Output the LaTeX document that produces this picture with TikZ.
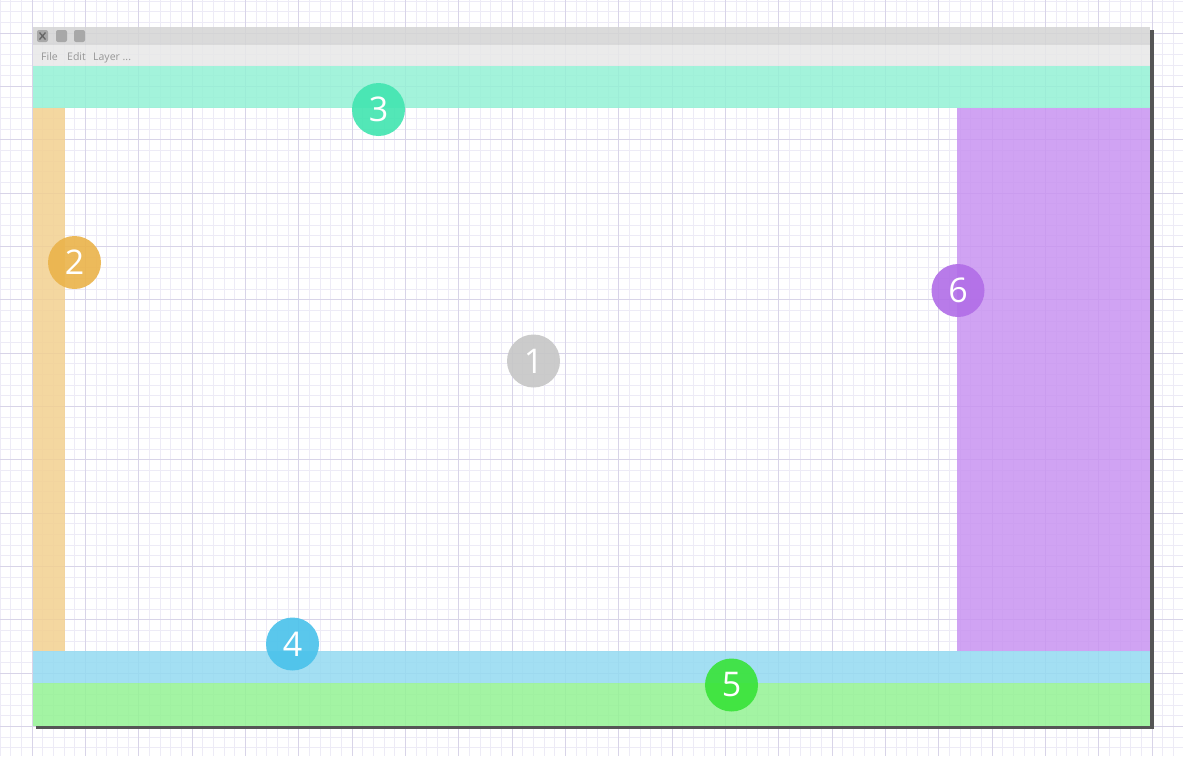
\documentclass[tikz,border=0pt]{standalone}
\usepackage{fontspec}
\setmainfont{Open Sans}
\definecolor{gridminor}{RGB}{237,235,246}
\definecolor{gridmajor}{RGB}{216,212,232}
\definecolor{titlec}{RGB}{212,212,212}
\definecolor{menuc}{RGB}{232,232,232}
\definecolor{tealc}{RGB}{147,241,213}
\definecolor{orangec}{RGB}{243,208,144}
\definecolor{purplec}{RGB}{200,147,241}
\definecolor{bluec}{RGB}{147,218,241}
\definecolor{greenc}{RGB}{147,243,147}
\definecolor{c1}{RGB}{198,198,198}
\definecolor{c2}{RGB}{235,179,74}
\definecolor{c3}{RGB}{65,229,176}
\definecolor{c4}{RGB}{73,194,235}
\definecolor{c5}{RGB}{56,227,56}
\definecolor{c6}{RGB}{177,109,231}
\definecolor{btn}{RGB}{168,168,168}
\definecolor{shadowc}{RGB}{85,85,85}
\definecolor{menutext}{RGB}{150,150,150}
\tikzset{
  band/.style={fill opacity=0.85, draw=none},
  badge/.style={circle, minimum size=53pt, inner sep=0pt, fill opacity=0.9, text opacity=1, text=white, font=\fontsize{34}{34}\selectfont},
  winbtn/.style={fill=btn, rounded corners=2pt, draw=none},
  menuitem/.style={anchor=base west, inner sep=0pt, text=menutext, font=\fontsize{10.5}{12}\selectfont}
}
\begin{document}
\begin{tikzpicture}[x=1pt,y=-1pt]
\useasboundingbox (0,0) rectangle (1183,756);
\fill[white] (0,0) rectangle (1183,756);
% grid
\foreach \i in {-3,...,108} \draw[gridminor, line width=0.6pt] ({32+\i*10.6667},0) -- ({32+\i*10.6667},756);
\foreach \j in {-3,...,68} \draw[gridminor, line width=0.6pt] (0,{33+\j*10.6667}) -- (1183,{33+\j*10.6667});
\foreach \i in {-1,...,22} \draw[gridmajor, line width=0.7pt] ({32+\i*53.3333},0) -- ({32+\i*53.3333},756);
\foreach \j in {-1,...,14} \draw[gridmajor, line width=0.7pt] (0,{33+\j*53.3333}) -- (1183,{33+\j*53.3333});
% shadow
\fill[shadowc] (1150,30) rectangle (1154,729);
\fill[shadowc] (36,726) rectangle (1154,729);
% window parts
\fill[titlec, band] (33,27) rectangle (1150,45);
\fill[menuc, band] (33,45) rectangle (1150,66);
\fill[tealc, band] (33,66) rectangle (1150,108);
\fill[orangec, band] (33,108) rectangle (65,651);
\fill[purplec, band] (957,108) rectangle (1150,651);
\fill[bluec, band] (33,651) rectangle (1150,683);
\fill[greenc, band] (33,683) rectangle (1150,726);
% title bar buttons
\fill[winbtn] (37,30) rectangle (48,42);
\fill[winbtn] (56,30) rectangle (67,42);
\fill[winbtn] (74,30) rectangle (85,42);
\draw[gray!80!black, line width=1.3pt] (39.5,32.5) -- (45.5,39.5) (45.5,32.5) -- (39.5,39.5);
% menu
\node[menuitem] (mfile) at (41,60) {File};
\node[menuitem] (medit) at (67,60) {Edit};
\node[menuitem] (mlayer) at (93,60) {Layer ...};
% badges
\node[badge, fill=c1] (n1) at (533.5,361) {1};
\node[badge, fill=c2] (n2) at (74.5,262.5) {2};
\node[badge, fill=c3] (n3) at (378.5,109.5) {3};
\node[badge, fill=c4] (n4) at (292.5,644) {4};
\node[badge, fill=c5] (n5) at (731.5,685) {5};
\node[badge, fill=c6] (n6) at (958,290.5) {6};
\end{tikzpicture}
\end{document}
